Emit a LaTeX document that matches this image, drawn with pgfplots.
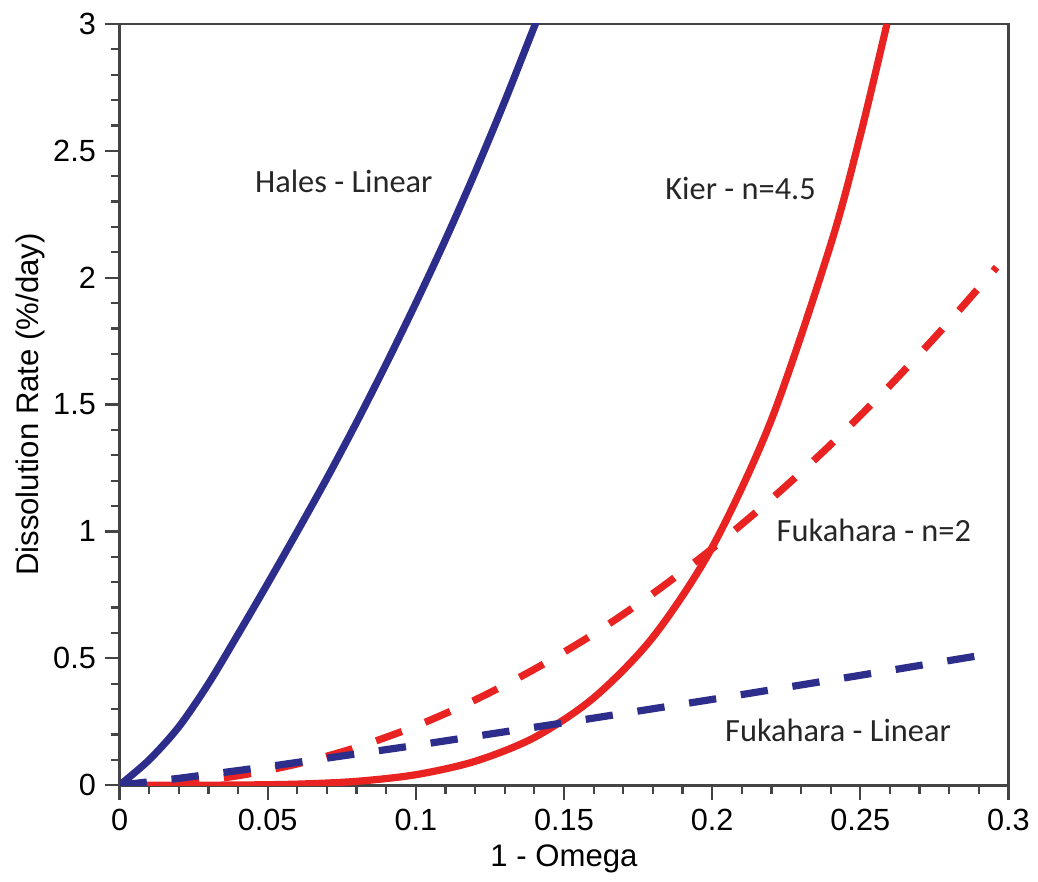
\documentclass[border=0pt]{standalone}
\usepackage{fontspec}
\setmainfont{Liberation Sans}
\newfontfamily\calfont{Carlito}
\usepackage{pgfplots}
\pgfplotsset{compat=1.18}
\definecolor{HalesBlue}{HTML}{2D2E8C}
\definecolor{KierRed}{HTML}{E82321}
\definecolor{AxisGray}{HTML}{444444}

\begin{document}
\begin{tikzpicture}
\begin{axis}[
  scale only axis,
  width=356.8pt, height=305.6pt,
  xmin=0, xmax=0.3, ymin=0, ymax=3,
  xtick={0,0.05,0.1,0.15,0.2,0.25,0.3},
  ytick={0,0.5,1,1.5,2,2.5,3},
  minor x tick num=4, minor y tick num=4,
  xtick pos=left, ytick pos=left,
  tick align=outside,
  major tick length=6pt, minor tick length=3.4pt,
  tick style={AxisGray, line width=0.9pt},
  axis line style={AxisGray, line width=1.1pt},
  scaled x ticks=false,
  xticklabel style={/pgf/number format/fixed, /pgf/number format/precision=2},
  /pgf/number format/assume math mode=true,
  tick label style={font=\fontsize{12.3}{14}\selectfont},
  label style={font=\fontsize{12.5}{15}\selectfont},
  xlabel={1 - Omega},
  ylabel={Dissolution Rate (\%/day)},
  xlabel style={at={(axis description cs:0.5,-0.097)}, anchor=center},
  ylabel style={at={(axis description cs:-0.1,0.5)}, anchor=center},
  every axis plot/.append style={line width=2.9pt},
]
% Hales - Linear
\addplot[HalesBlue, smooth, tension=0.5] coordinates {
  (0,0) (0.01,0.10) (0.02,0.23) (0.03,0.40) (0.04,0.595) (0.05,0.795)
  (0.06,1.00) (0.07,1.21) (0.08,1.43) (0.09,1.66) (0.10,1.90)
  (0.11,2.15) (0.12,2.415) (0.13,2.695) (0.14,2.99) (0.1415,3.03)
};
% Kier - n=4.5
\addplot[KierRed, smooth] coordinates {
  (0,0) (0.02,0.00003) (0.04,0.0007) (0.06,0.0042) (0.08,0.0152)
  (0.10,0.0414) (0.12,0.0942) (0.14,0.188) (0.16,0.344) (0.18,0.583)
  (0.20,0.937) (0.22,1.44) (0.24,2.13) (0.25,2.56) (0.259,3.0)
};
% Fukahara - n=2
\addplot[KierRed, smooth, dash pattern=on 11pt off 10pt] coordinates {
  (0,0) (0.02,0.0093) (0.04,0.0373) (0.06,0.0839) (0.08,0.149)
  (0.10,0.233) (0.12,0.336) (0.14,0.457) (0.16,0.596) (0.18,0.755)
  (0.20,0.932) (0.22,1.128) (0.24,1.342) (0.26,1.575) (0.28,1.827)
  (0.296,2.041)
};
% Fukahara - Linear
\addplot[HalesBlue, dash pattern=on 11pt off 10pt] coordinates {
  (0,0) (0.02,0.027) (0.05,0.073) (0.10,0.157) (0.15,0.246)
  (0.20,0.338) (0.25,0.433) (0.296,0.522)
};
\node[font=\calfont\fontsize{13}{15}\selectfont, text=black!85] at (axis cs:0.0757,2.38) {Hales - Linear};
\node[font=\calfont\fontsize{13}{15}\selectfont, text=black!85] at (axis cs:0.2096,2.35) {Kier - n=4.5};
\node[font=\calfont\fontsize{13}{15}\selectfont, text=black!85] at (axis cs:0.2546,1.005) {Fukahara - n=2};
\node[font=\calfont\fontsize{13}{15}\selectfont, text=black!85] at (axis cs:0.2425,0.216) {Fukahara - Linear};
\end{axis}
\path (current axis.south west) ++(-48pt,-36.8pt) coordinate (bbsw);
\path (current axis.north east) ++(10.4pt,9.6pt) coordinate (bbne);
\path (bbsw) (bbne);
\end{tikzpicture}
\end{document}
